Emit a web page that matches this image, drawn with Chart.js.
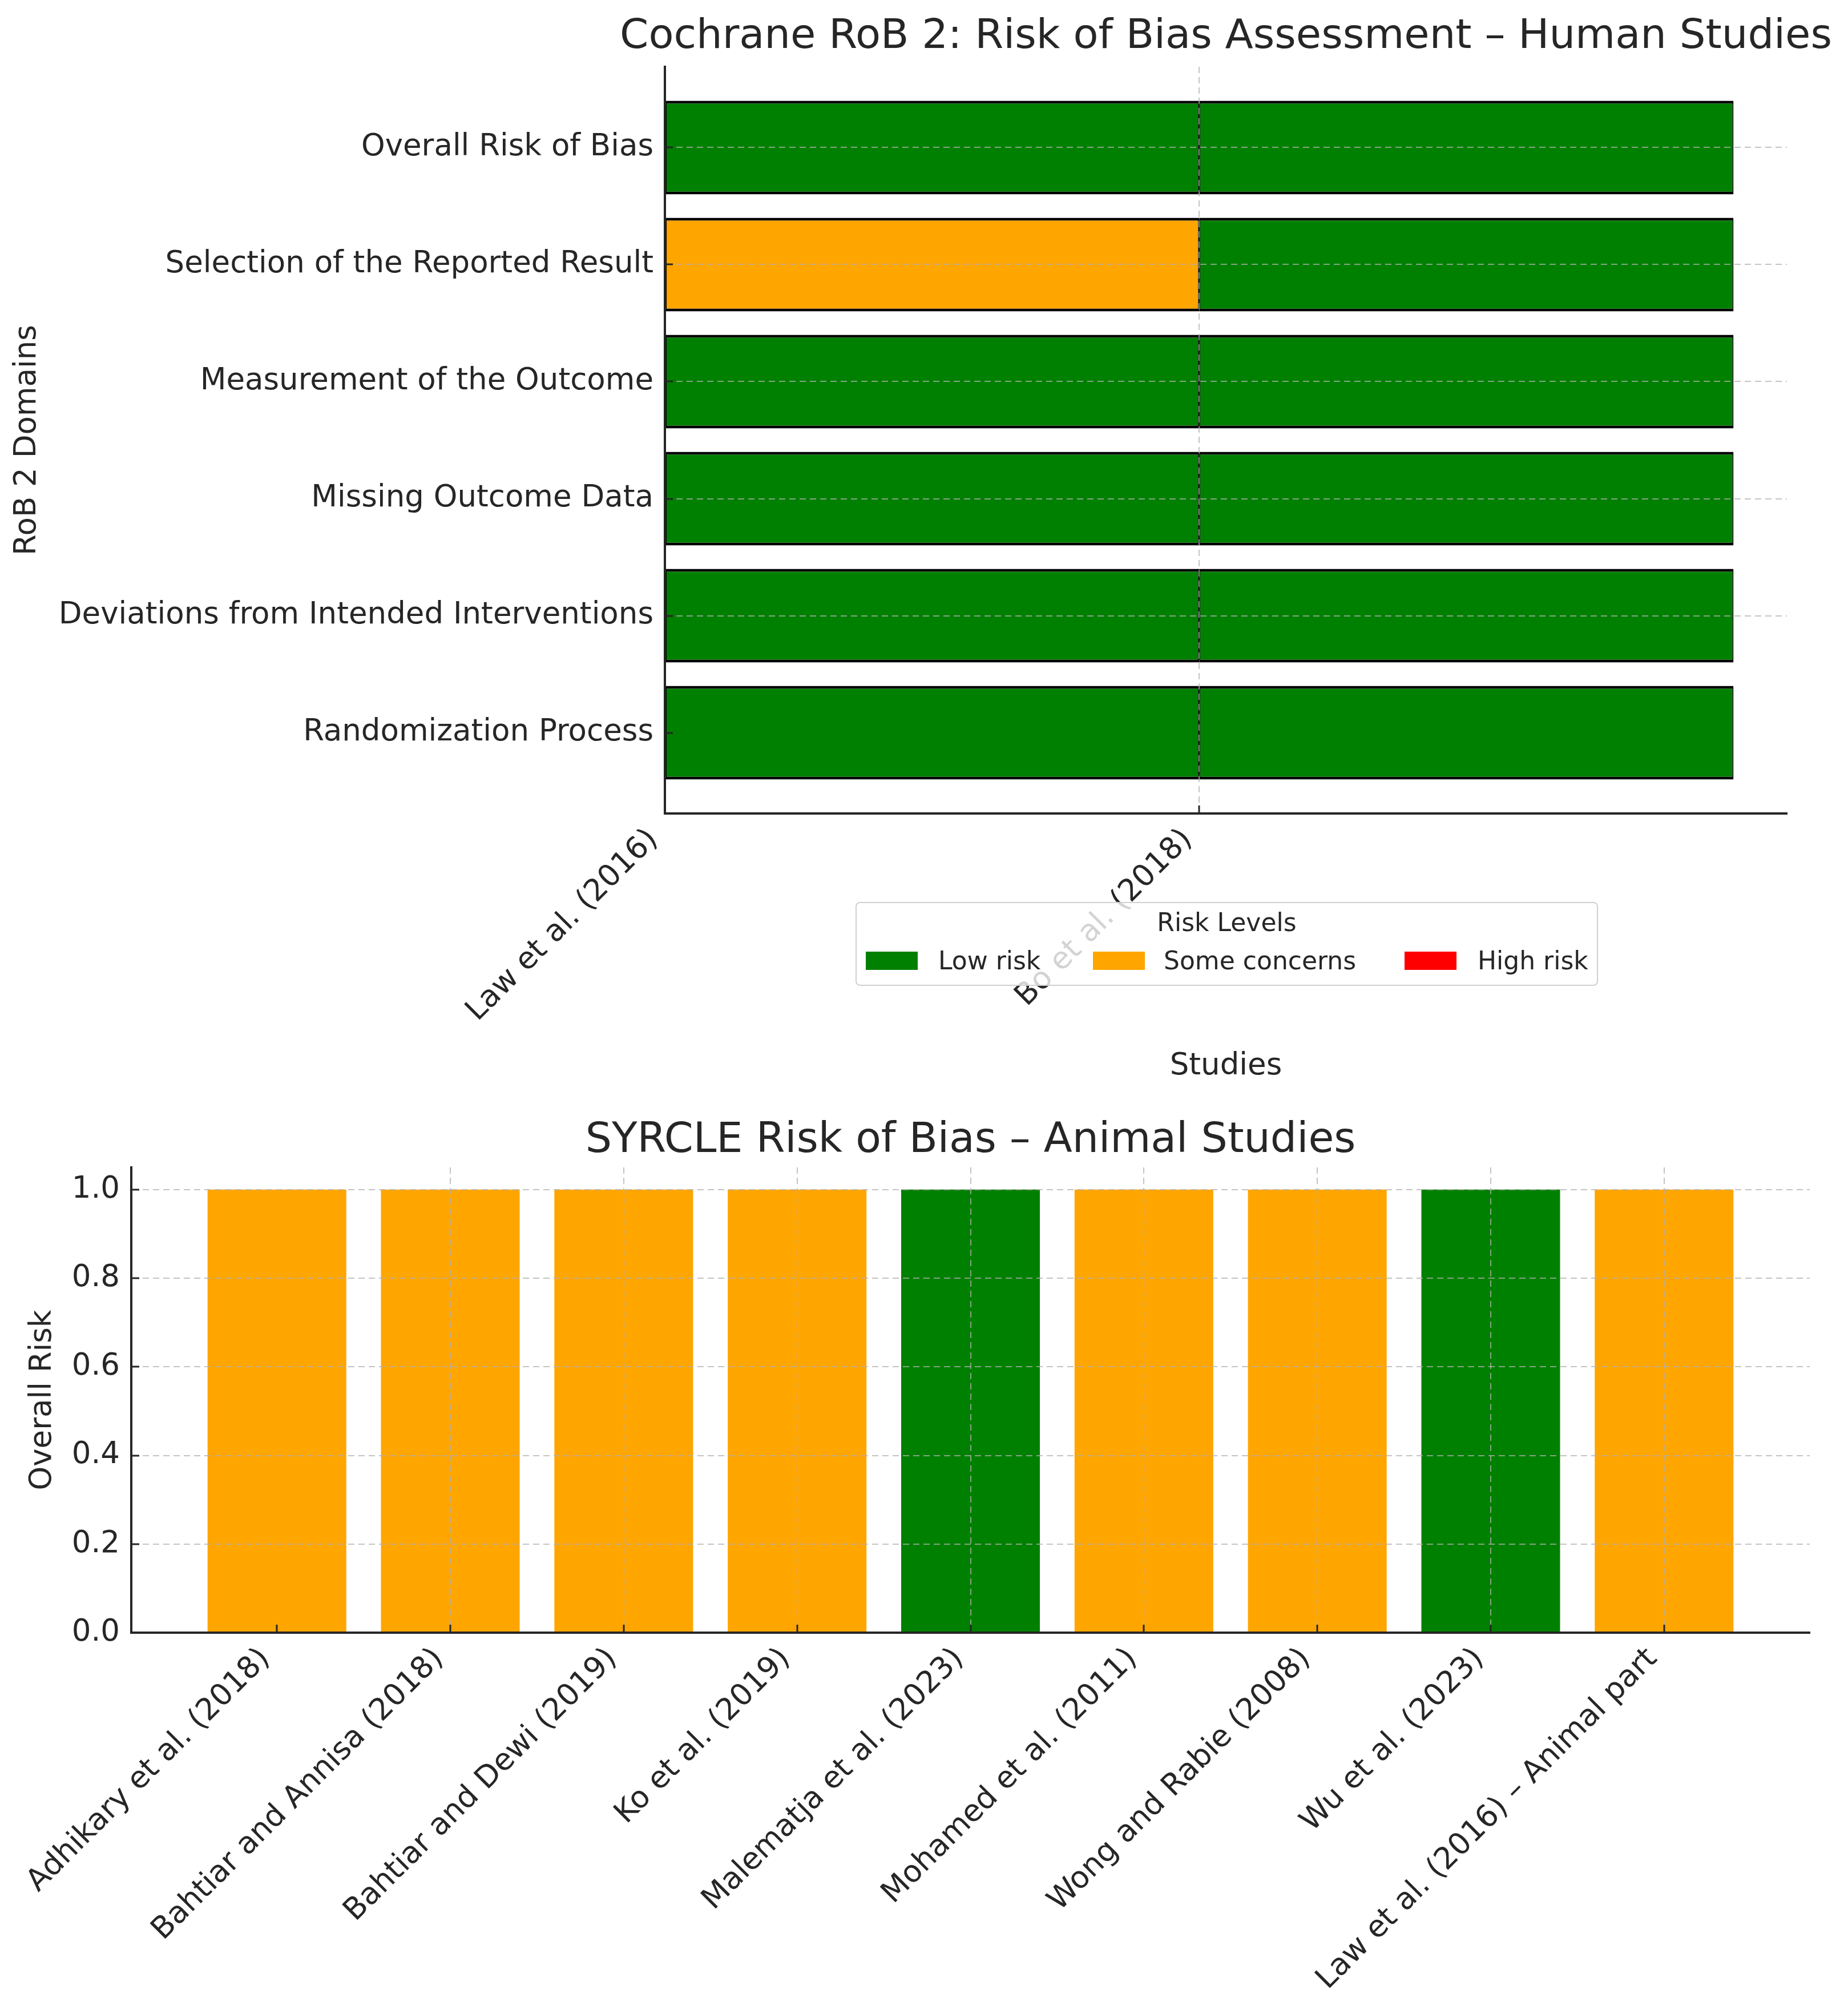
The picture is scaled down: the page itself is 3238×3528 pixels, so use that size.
<!DOCTYPE html>
<html>
<head>
<meta charset="utf-8">
<script src="https://cdn.jsdelivr.net/npm/chart.js@4.4.1/dist/chart.umd.min.js"></script>
<style>
html,body{margin:0;padding:0;background:#fff;}
#page{position:relative;width:3238px;height:3528px;background:#fff;overflow:hidden;font-family:"DejaVu Sans",sans-serif;}
#c1{position:absolute;left:0;top:0;width:3238px;height:1900px;}
#c2{position:absolute;left:0;top:1900px;width:3238px;height:1628px;}
#legend{position:absolute;left:1499px;top:1580px;width:1297px;height:143px;border:2px solid #d0d0d0;border-radius:8px;background:rgba(255,255,255,0.8);color:#262626;font-size:44px;}
.lt{position:absolute;white-space:nowrap;line-height:44px;height:44px;}
.sw{position:absolute;width:91px;height:32px;}
</style>
</head>
<body>
<div id="page">
  <canvas id="c1" width="3238" height="1900"></canvas>
  <canvas id="c2" width="3238" height="1628"></canvas>
  <div id="legend"></div>
</div>
<script>
// ---------- data ----------
const riskLevels = ['Low risk', 'Some concerns', 'High risk'];
const riskColors = ['#008000', '#FFA500', '#FF0000'];

// Human studies (Cochrane RoB 2); domains listed bottom -> top
const domains = [
  'Randomization Process',
  'Deviations from Intended Interventions',
  'Missing Outcome Data',
  'Measurement of the Outcome',
  'Selection of the Reported Result',
  'Overall Risk of Bias'
];
const humanStudies = ['Law et al. (2016)', 'Bo et al. (2018)'];
const lawRisk = ['Low risk', 'Low risk', 'Low risk', 'Low risk', 'Some concerns', 'Low risk'];
const boRisk  = ['Low risk', 'Low risk', 'Low risk', 'Low risk', 'Low risk', 'Low risk'];
const humanRisk = [lawRisk, boRisk];

// Animal studies (SYRCLE)
const animalStudies = [
  'Adhikary et al. (2018)',
  'Bahtiar and Annisa (2018)',
  'Bahtiar and Dewi (2019)',
  'Ko et al. (2019)',
  'Malematja et al. (2023)',
  'Mohamed et al. (2011)',
  'Wong and Rabie (2008)',
  'Wu et al. (2023)',
  'Law et al. (2016) – Animal part'
];
const animalRisk = ['Some concerns', 'Some concerns', 'Some concerns', 'Some concerns', 'Low risk',
                    'Some concerns', 'Some concerns', 'Low risk', 'Some concerns'];
const animalOverall = [1, 1, 1, 1, 1, 1, 1, 1, 1];
const overallTicks = [0, 0.2, 0.4, 0.6, 0.8, 1.0];

// ---------- styling ----------
const FONT = 'DejaVu Sans';
const TEXT = '#262626';
const GRID = 'rgba(176,176,176,0.75)';
const colorOf = r => riskColors[riskLevels.indexOf(r)];

function gridOpts() {
  return {
    offset: false,
    z: 1,
    color: ctx => (ctx.tick && ctx.tick.value === 0) ? 'rgba(0,0,0,0)' : GRID,
    lineWidth: 2,
    drawTicks: true,
    tickLength: -14,
    tickColor: TEXT,
    tickWidth: 3,
    tickBorderDash: []
  };
}
function borderOpts() {
  return { display: true, color: TEXT, width: 4, dash: [11, 7], z: 2 };
}
const tickFont = { family: FONT, size: 53 };

// let the (axes-centred) title be wider than the axes, as in the original
const wideTitle = {
  id: 'wideTitle',
  afterLayout(chart) {
    const t = chart.titleBlock;
    if (t) { t.left -= 400; t.right += 400; t.width = t.right - t.left; }
  }
};

// ---------- chart 1 : Cochrane RoB 2 ----------
new Chart(document.getElementById('c1'), {
  type: 'bar',
  plugins: [wideTitle],
  data: {
    datasets: humanStudies.map((study, s) => ({
      label: study,
      data: domains.map((d, i) => ({ x: [s, s + 1], y: i })),
      backgroundColor: humanRisk[s].map(colorOf),
      borderColor: '#000',
      borderWidth: { top: 5, bottom: 5, left: 2, right: 2 },
      borderSkipped: false,
      grouped: false,
      barPercentage: 0.8,
      categoryPercentage: 1
    }))
  },
  options: {
    indexAxis: 'y',
    responsive: false,
    animation: false,
    devicePixelRatio: 1,
    layout: { padding: { left: 0, right: 107, top: 0, bottom: 0 } },
    plugins: {
      legend: { display: false },
      tooltip: { enabled: false },
      title: {
        display: true,
        text: 'Cochrane RoB 2: Risk of Bias Assessment – Human Studies',
        font: { family: FONT, size: 72, weight: 'normal' },
        color: TEXT,
        fullSize: false,
        padding: { top: 22, bottom: 8.6 }
      }
    },
    scales: {
      x: {
        type: 'linear', position: 'bottom', min: 0, max: 2.1, bounds: 'data', offset: false,
        afterBuildTicks: s => { s.ticks = humanStudies.map((_, i) => ({ value: i })); },
        afterFit: s => { s.height = 475; },
        ticks: {
          autoSkip: false, maxRotation: 45, minRotation: 45, padding: 29, labelOffset: -20,
          font: tickFont, color: TEXT, z: 2,
          callback: v => humanStudies[v]
        },
        grid: gridOpts(),
        border: borderOpts(),
        title: { display: true, text: 'Studies', font: tickFont, color: TEXT, padding: { top: 32, bottom: 0 } }
      },
      y: {
        type: 'linear', position: 'left', min: -0.69, max: 5.69, bounds: 'data', offset: false,
        afterBuildTicks: s => { s.ticks = domains.map((_, i) => ({ value: i })); },
        afterFit: s => { s.width = 1165; },
        ticks: { padding: 34, font: tickFont, color: TEXT, z: 2, callback: v => domains[v] },
        grid: gridOpts(),
        border: borderOpts(),
        title: { display: true, text: 'RoB 2 Domains', font: tickFont, color: TEXT, padding: { top: 16, bottom: 0 } }
      }
    }
  }
});

// ---------- chart 2 : SYRCLE ----------
new Chart(document.getElementById('c2'), {
  type: 'bar',
  data: {
    datasets: [{
      label: 'Overall Risk',
      data: animalStudies.map((s, i) => ({ x: i, y: animalOverall[i] })),
      backgroundColor: animalRisk.map(colorOf),
      borderWidth: 0,
      barPercentage: 0.8,
      categoryPercentage: 1
    }]
  },
  options: {
    responsive: false,
    animation: false,
    devicePixelRatio: 1,
    layout: { padding: { left: 0, right: 67, top: 0, bottom: 0 } },
    plugins: {
      legend: { display: false },
      tooltip: { enabled: false },
      title: {
        display: true,
        text: 'SYRCLE Risk of Bias – Animal Studies',
        font: { family: FONT, size: 73, weight: 'normal' },
        color: TEXT,
        fullSize: false,
        padding: { top: 55, bottom: 2.4 }
      }
    },
    scales: {
      x: {
        type: 'linear', position: 'bottom', min: -0.84, max: 8.84, bounds: 'data', offset: false,
        afterBuildTicks: s => { s.ticks = animalStudies.map((_, i) => ({ value: i })); },
        afterFit: s => { s.height = 668; },
        ticks: {
          autoSkip: false, maxRotation: 45, minRotation: 45, padding: 29, labelOffset: -20,
          font: tickFont, color: TEXT, z: 2,
          callback: v => animalStudies[v]
        },
        grid: gridOpts(),
        border: borderOpts()
      },
      y: {
        type: 'linear', position: 'left', min: 0, max: 1.05, bounds: 'data', offset: false,
        afterBuildTicks: s => { s.ticks = overallTicks.map(v => ({ value: v })); },
        afterFit: s => { s.width = 230; },
        ticks: { padding: 34, font: tickFont, color: TEXT, z: 2, callback: v => Number(v).toFixed(1) },
        grid: gridOpts(),
        border: borderOpts(),
        title: { display: true, text: 'Overall Risk', font: tickFont, color: TEXT, padding: { top: 43, bottom: 0 } }
      }
    }
  }
});

// ---------- legend (HTML, real text) ----------
(function buildLegend() {
  const lg = document.getElementById('legend');
  const title = document.createElement('div');
  title.className = 'lt';
  title.style.left = '0'; title.style.width = '100%'; title.style.textAlign = 'center'; title.style.top = '12px';
  title.textContent = 'Risk Levels';
  lg.appendChild(title);
  const swatchX = [16, 414, 960];
  const textX = [143, 538, 1088];
  riskLevels.forEach((r, i) => {
    const sw = document.createElement('div');
    sw.className = 'sw';
    sw.style.left = swatchX[i] + 'px'; sw.style.top = '85px';
    sw.style.background = riskColors[i];
    lg.appendChild(sw);
    const t = document.createElement('div');
    t.className = 'lt';
    t.style.left = textX[i] + 'px'; t.style.top = '79px';
    t.textContent = r;
    lg.appendChild(t);
  });
})();
</script>
</body>
</html>
